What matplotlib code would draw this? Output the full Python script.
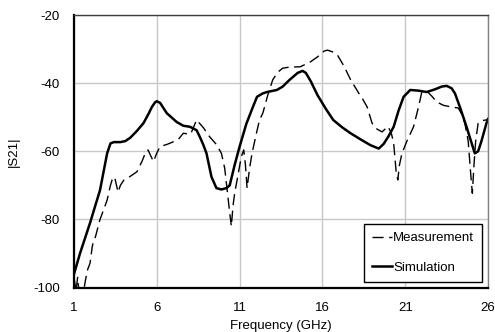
import matplotlib
matplotlib.use("Agg")
import matplotlib.pyplot as plt

plt.rcParams['font.family'] = ['Liberation Sans', 'DejaVu Sans']
plt.rcParams['axes.unicode_minus'] = False

meas_x = [1.0, 1.12, 1.22, 1.32, 1.5, 1.65, 1.8, 1.97, 2.1, 2.15, 2.3, 2.57, 2.8, 3.0, 3.2, 3.3, 3.45,
          3.66, 3.8, 4.0, 4.2, 4.5, 4.8, 5.1, 5.3, 5.47, 5.65, 5.8, 6.0, 6.2, 6.6, 7.0, 7.3, 7.6, 8.0,
          8.1, 8.4, 8.8, 9.2, 9.6, 9.9, 10.1, 10.2, 10.4, 10.5, 10.6, 10.7, 10.9, 11.1, 11.25, 11.35,
          11.45, 11.6, 11.75, 12.0, 12.2, 12.4, 12.7, 13.0, 13.3, 13.6, 14.0, 14.65, 15.2, 15.7, 16.1,
          16.3, 16.6, 16.9, 17.3, 17.7, 18.2, 18.4, 18.7, 19.0, 19.3, 19.6, 19.95, 20.15, 20.3, 20.45,
          20.55, 20.65, 20.8, 21.1, 21.5, 21.8, 22.0, 22.3, 22.6, 22.9, 23.3, 23.7, 24.2, 24.4, 24.6,
          24.8, 24.95, 25.05, 25.15, 25.25, 25.4, 25.6, 25.9, 26.0]
meas_y = [-97, -101, -97, -102, -104, -99, -95, -92.8, -88, -87, -85, -80, -77, -74.3, -70, -68.4, -67.5,
          -72, -70, -68.5, -68, -67, -66, -63, -60.6, -59.6, -61.5, -63, -60.5, -58.6, -58, -57.2, -56.5,
          -54.7, -55, -54.3, -50.8, -53, -55.8, -58, -60.6, -65, -69.3, -78, -82, -76, -72.3, -67, -61.6,
          -59.6, -64, -70.8, -65, -60.6, -55, -50.8, -48.8, -43.5, -39, -36.8, -35.6, -35.3, -35.2, -34,
          -32.3, -30.6, -30.3, -30.8, -31.7, -35, -39, -43, -44.4, -47, -51.8, -53.5, -54.3, -52.7, -54.5,
          -57.6, -66, -68.4, -64, -60.6, -57, -52.8, -47, -42.6, -42.3, -43.8, -45.5, -46.5, -46.9, -47.3,
          -49, -51.8, -57, -66.5, -72.3, -64, -57, -51.8, -51, -50.8, -50.5]

sim_x = [1.0, 1.36, 1.97, 2.57, 3.0, 3.2, 3.4, 3.8, 4.1, 4.4, 4.8, 5.2, 5.5, 5.7, 5.9, 6.0, 6.2, 6.6,
         7.2, 7.6, 8.0, 8.4, 8.6, 8.8, 9.0, 9.3, 9.6, 9.9, 10.2, 10.4, 10.7, 11.0, 11.4, 11.8, 12.05,
         12.4, 12.65, 13.25, 13.6, 14.0, 14.5, 14.8, 15.0, 15.3, 15.7, 16.2, 16.65, 17.2, 17.7, 18.3,
         18.9, 19.4, 19.7, 20.0, 20.3, 20.6, 20.9, 21.3, 21.8, 22.3, 22.8, 23.2, 23.5, 23.8, 24.0,
         24.3, 24.7, 25.0, 25.2, 25.4, 25.6, 25.9, 26.0]
sim_y = [-96, -90, -81, -71.4, -60.6, -57.7, -57.3, -57.3, -57, -56, -54, -51.7, -49, -47, -45.6, -45.3,
         -45.8, -48.8, -51.4, -52.5, -52.8, -53.8, -55.8, -58, -60.6, -67.5, -70.8, -71.2, -70.8, -70,
         -64, -58.6, -52, -47, -44, -43, -42.6, -42, -41, -39.1, -37, -36.4, -37, -39.5, -43.5, -47.5,
         -50.8, -53, -54.7, -56.5, -58.2, -59.2, -57.8, -55.5, -52.8, -48, -44, -42, -42.2, -42.6, -41.8,
         -41, -40.8, -41.5, -43, -47, -52.8, -57.5, -60.6, -60, -57, -51.8, -50.5]

x_ticks = [1, 6, 11, 16, 21, 26]
y_ticks = [-100, -80, -60, -40, -20]

fig = plt.figure(figsize=(4.95, 3.32), dpi=100)
ax = fig.add_axes([0.1495, 0.1337, 0.8365, 0.8211])

ax.plot(meas_x, meas_y, color='black', lw=1.0, linestyle=(0, (8, 4)), label='Measurement')
ax.plot(sim_x, sim_y, color='black', lw=1.8, label='Simulation')

ax.set_xlim(1, 26)
ax.set_ylim(-100, -20)
ax.set_xticks(x_ticks)
ax.set_yticks(y_ticks)
ax.grid(True, color='#c8c8c8', lw=1.0)
ax.set_axisbelow(True)
ax.tick_params(length=0, labelsize=9.5, pad=10)

for s in ['left', 'bottom']:
    ax.spines[s].set_color('black')
    ax.spines[s].set_linewidth(1.6)
ax.spines['top'].set_color('#404040')
ax.spines['top'].set_linewidth(1.0)
ax.spines['right'].set_color('#808080')
ax.spines['right'].set_linewidth(1.0)

ax.set_xlabel('Frequency (GHz)', fontsize=9.5, labelpad=5)
ax.set_ylabel('|S21|', fontsize=9.5)
ax.yaxis.set_label_coords(-0.13, 0.5)

leg = ax.legend(loc='lower right', fontsize=9.5, frameon=True, fancybox=False, framealpha=1,
                edgecolor='black', labelspacing=1.3, handlelength=1.5, handletextpad=0.1,
                borderaxespad=0.45, borderpad=0.6)
leg.get_frame().set_linewidth(1.0)

fig.savefig('out.png', dpi=100)
